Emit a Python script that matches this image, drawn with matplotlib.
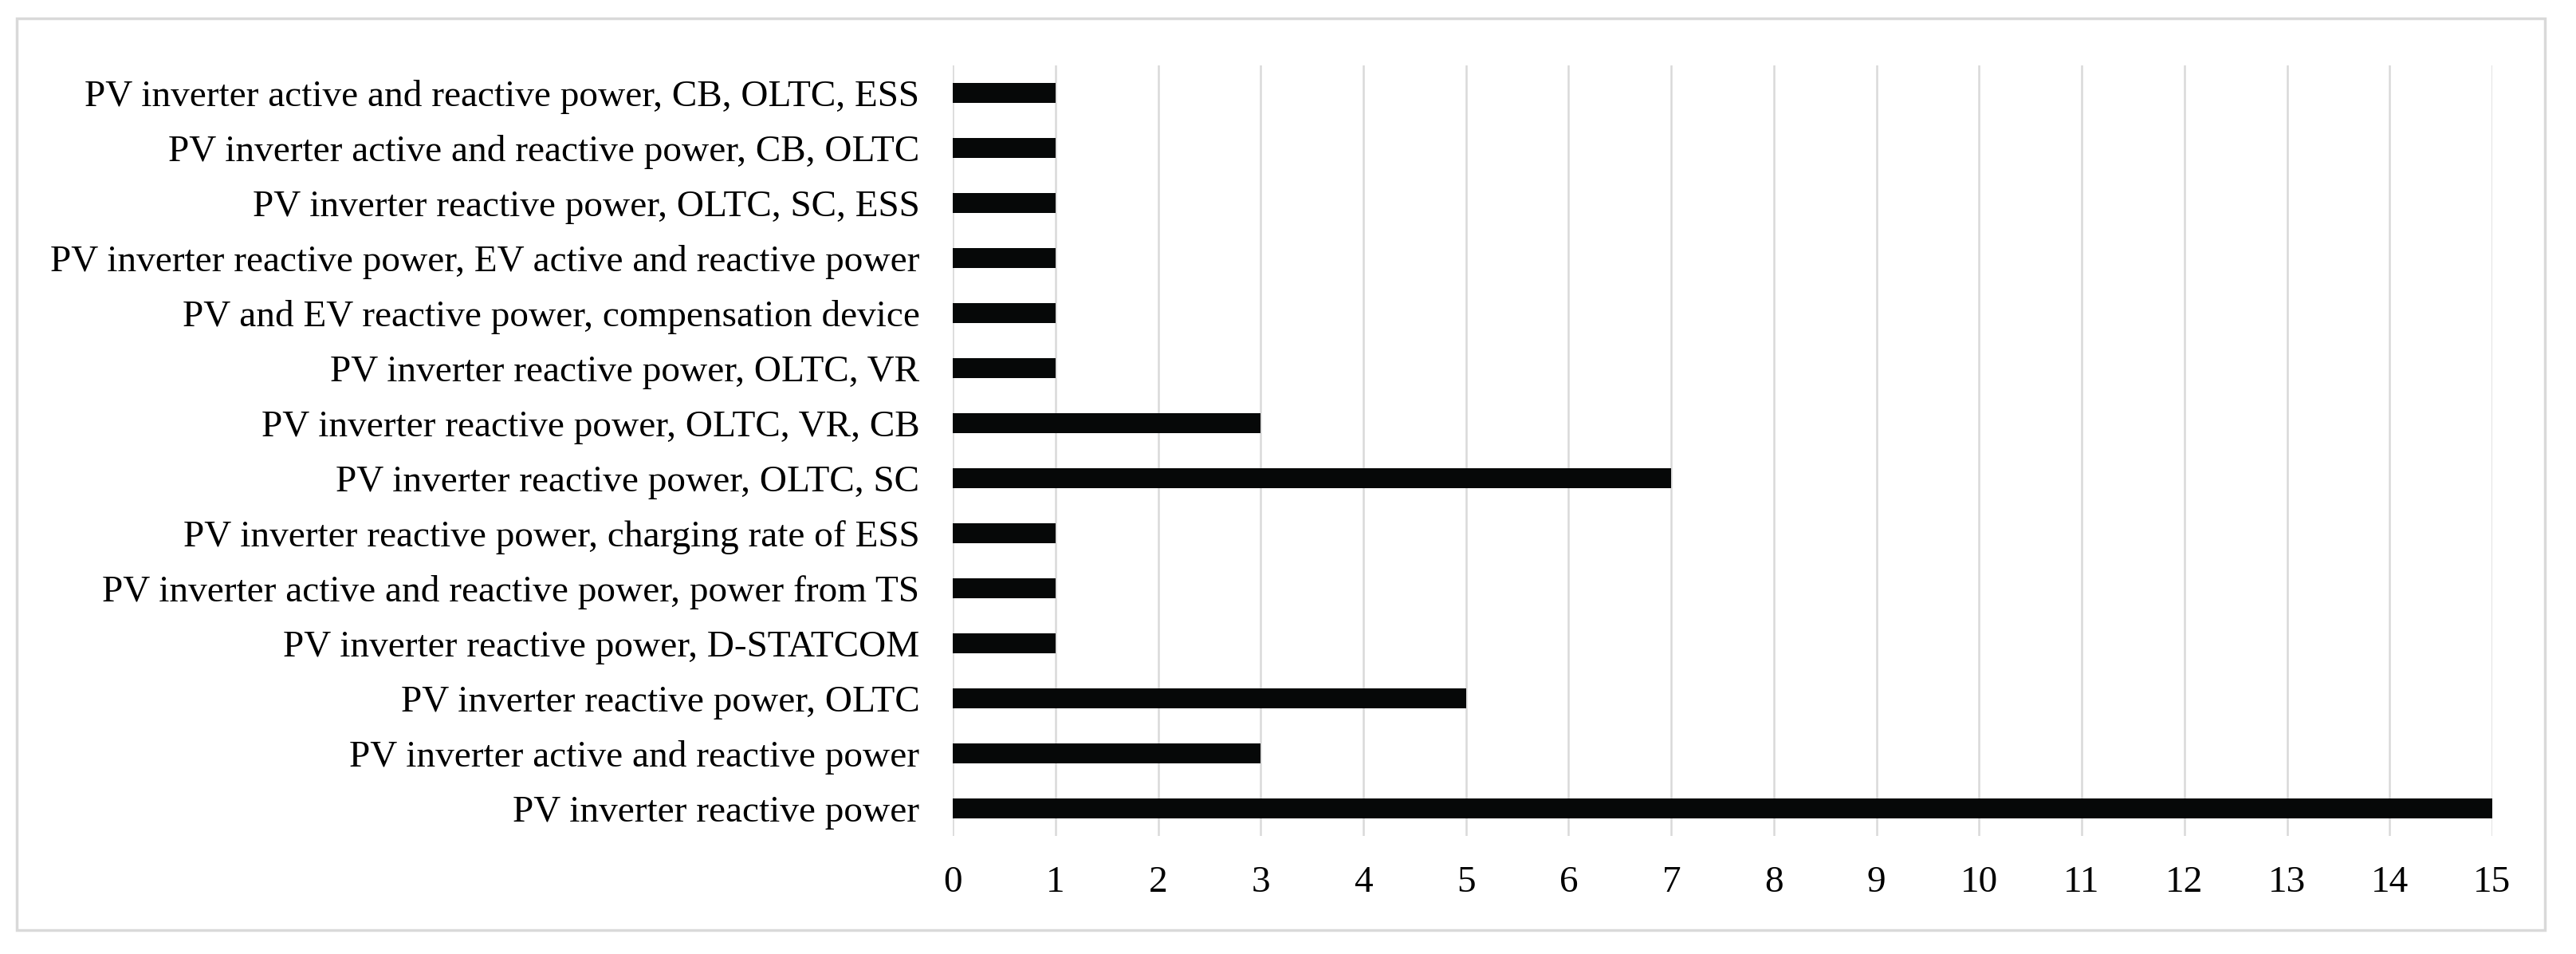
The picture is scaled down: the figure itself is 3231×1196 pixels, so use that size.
import matplotlib
matplotlib.use("Agg")
import matplotlib.pyplot as plt
from matplotlib.patches import Rectangle

# categories listed bottom to top, as drawn
categories = [
    "PV inverter reactive power",
    "PV inverter active and reactive power",
    "PV inverter reactive power, OLTC",
    "PV inverter reactive power, D-STATCOM",
    "PV inverter active and reactive power, power from TS",
    "PV inverter reactive power, charging rate of ESS",
    "PV inverter reactive power, OLTC, SC",
    "PV inverter reactive power, OLTC, VR, CB",
    "PV inverter reactive power, OLTC, VR",
    "PV and EV reactive power, compensation device",
    "PV inverter reactive power, EV active and reactive power",
    "PV inverter reactive power, OLTC, SC, ESS",
    "PV inverter active and reactive power, CB, OLTC",
    "PV inverter active and reactive power, CB, OLTC, ESS",
]
counts = [15, 3, 5, 1, 1, 1, 7, 3, 1, 1, 1, 1, 1, 1]
xticks = list(range(0, 16))

plt.rcParams['font.family'] = ['Liberation Serif', 'DejaVu Serif']

fig = plt.figure(figsize=(32.31, 11.96), dpi=100)
ax = fig.add_axes([0.3699, 0.1237, 0.5976, 0.8077])

y = range(len(categories))
ax.barh(y, counts, height=0.37, color='#060808', zorder=3)

ax.set_xlim(0, 15)
ax.set_ylim(-0.5, len(categories) - 0.5)
ax.set_xticks(xticks)
ax.set_yticks(list(y))
ax.set_yticklabels(categories)
ax.tick_params(axis='both', length=0, labelsize=34, colors='black')
ax.tick_params(axis='y', pad=30)
ax.tick_params(axis='x', pad=27)
ax.grid(axis='x', color='#d9d9d9', linewidth=1.8, zorder=0)
for s in ax.spines.values():
    s.set_visible(False)

# outer chart frame
fig.patches.append(Rectangle((0.0065, 0.025), 0.9815, 0.956, transform=fig.transFigure,
                             fill=False, edgecolor='#d9d9d9', linewidth=2.5))

fig.savefig("out.png", dpi=100)
